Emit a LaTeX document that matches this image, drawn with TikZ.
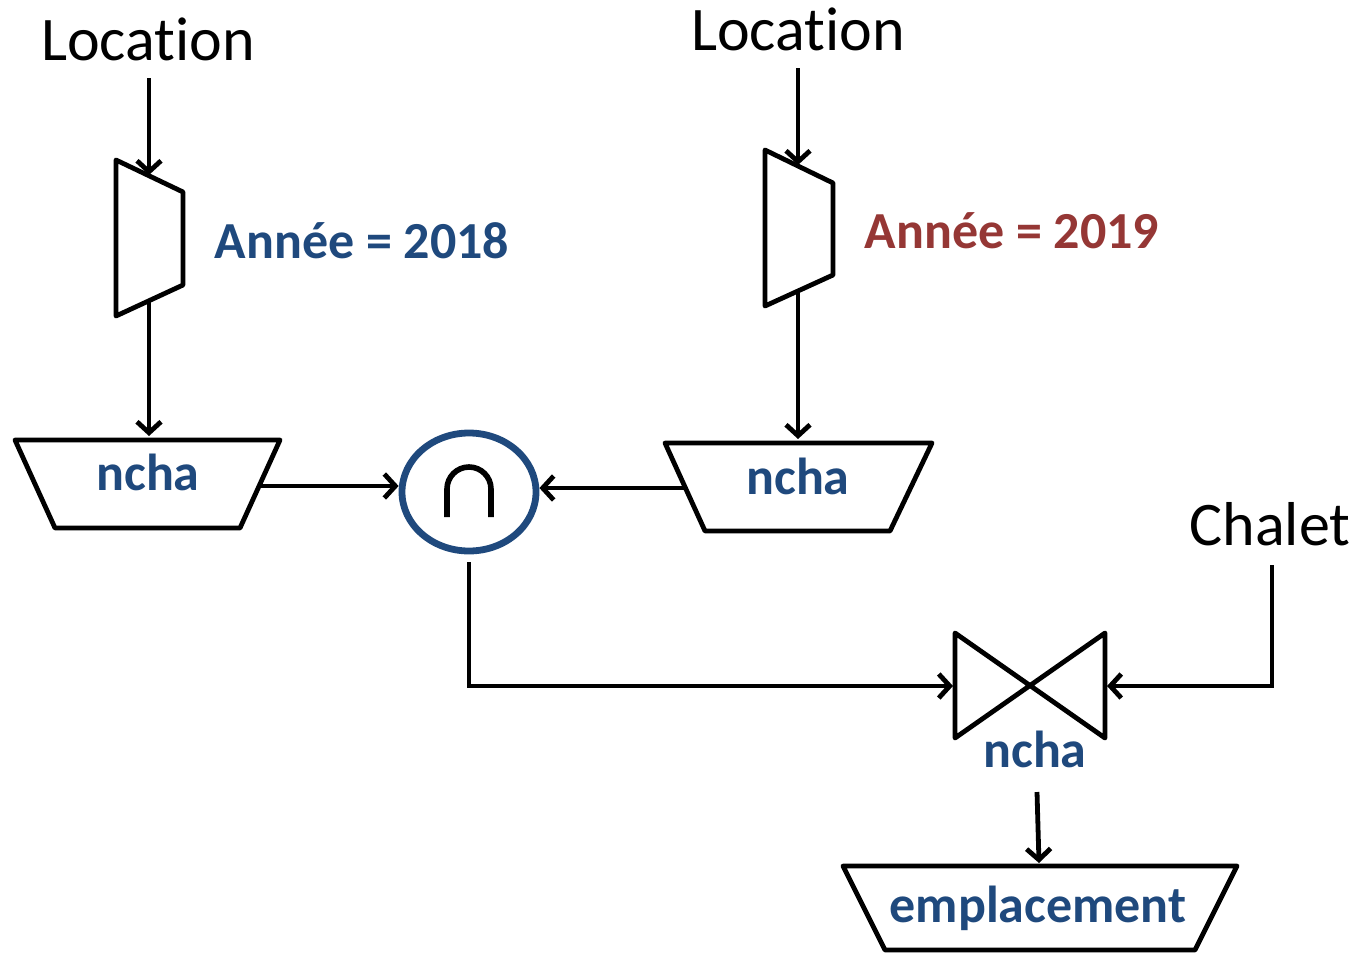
\documentclass[tikz,border=0pt]{standalone}
\usepackage{fontspec}
\setmainfont{Carlito}[Ligatures=NoCommon]
\usetikzlibrary{arrows.meta,shapes.geometric,calc}
\definecolor{labelblue}{HTML}{1F497D}
\definecolor{labelred}{HTML}{953735}
\tikzset{
  opshape/.style={draw=black,line width=2.4pt,line join=round,fill=white},
  link/.style={draw=black,line width=2.4pt,-{Straight Barb[length=5.5pt,width=12pt,line width=2.4pt]}},
  relname/.style={font=\fontsize{31}{36}\selectfont,inner sep=0pt,anchor=base},
  attr/.style={font=\fontsize{26}{30}\selectfont\bfseries,text=labelblue,inner sep=0pt,anchor=base},
  cond/.style={font=\fontsize{26}{30}\selectfont\bfseries,inner sep=0pt,anchor=base},
}
\begin{document}
\begin{tikzpicture}[x=0.5pt,y=-0.5pt]
\useasboundingbox (0,0) rectangle (1363,953);

% relation names
\node[relname] (loc1) at (148,60) {Location};
\node[relname] (loc2) at (798,50) {Location};
\node[relname] (chalet) at (1270,545) {Chalet};

% selections
\draw[opshape] (116,160) -- (183,192) -- (183,285) -- (116,316) -- cycle;
\draw[opshape] (765,150) -- (833,183) -- (833,275) -- (765,306) -- cycle;
\coordinate (sel1in) at (149,175);
\coordinate (sel1out) at (149,301);
\coordinate (sel2in) at (798,165);
\coordinate (sel2out) at (798,291);
\node[cond,text=labelblue] (cond1) at (362,258) {Année = 2018};
\node[cond,text=labelred] (cond2) at (1012,248) {Année = 2019};

% projections
\draw[opshape] (15,440) -- (280,440) -- (240,528) -- (55,528) -- cycle;
\draw[opshape] (665,443) -- (932,443) -- (890,531) -- (705,531) -- cycle;
\coordinate (proj1in) at (149,436);
\coordinate (proj1out) at (260,486);
\coordinate (proj2in) at (798,439);
\coordinate (proj2out) at (685,488);
\node[attr] (ncha1) at (148,490) {ncha};
\node[attr] (ncha2) at (798,494) {ncha};

% intersection
\node[ellipse,draw=labelblue,line width=3.4pt,minimum width=67pt,minimum height=59pt,inner sep=0pt] (inter) at (469,492) {};
\draw[line width=2.8pt] (447,517) -- (447,489) arc[start angle=180,end angle=0,radius=11pt] -- (491,517);
\coordinate (interout) at (469,562);

% join
\draw[opshape] (955,633) -- (1105,738) -- (1105,633) -- (955,738) -- cycle;
\coordinate (joinleft) at (953,686);
\coordinate (joinright) at (1107,686);
\node[attr] (ncha3) at (1035,767) {ncha};
\coordinate (joinout) at (1037,792);

% final projection
\draw[opshape] (843,866) -- (1237,866) -- (1195,950) -- (885,950) -- cycle;
\coordinate (proj3in) at (1039,863);
\node[attr] (empl) at (1038,922) {emplacement};

% flow
\draw[link] ($(loc1.base)+(1,18)$) -- (sel1in);
\draw[link] (sel1out) -- (proj1in);
\draw[link] ($(loc2.base)+(0,18)$) -- (sel2in);
\draw[link] (sel2out) -- (proj2in);
\draw[link] (proj1out) -- (proj1out -| inter.west);
\draw[link] (proj2out) -- (proj2out -| inter.east);
\draw[link] (interout) |- (joinleft);
\draw[link] ($(chalet.base)+(2,20)$) |- (joinright);
\draw[link] (joinout) -- (proj3in);
\end{tikzpicture}
\end{document}
